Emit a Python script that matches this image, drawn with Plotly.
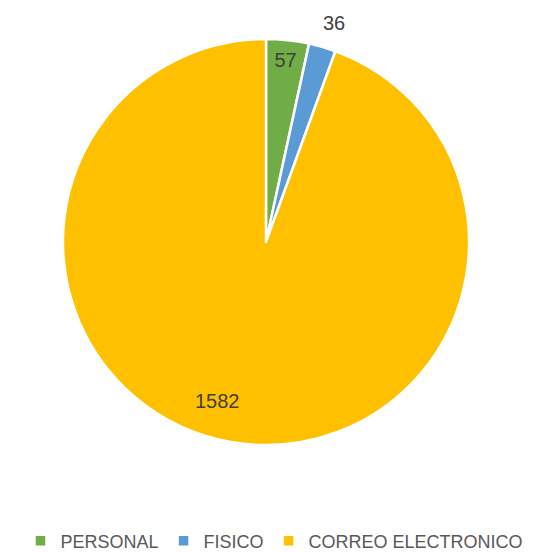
import math
import plotly.graph_objects as go

categories = ["PERSONAL", "FISICO", "CORREO ELECTRONICO"]
values = [57, 36, 1582]
colors = ["#70AD47", "#5B9BD5", "#FFC000"]
# how each value label is placed: native inside text, or annotation at radius fraction
label_modes = ["inside", "annot", "annot"]
label_radius = [None, 1.13, 0.82]
label_angle_shift = [0, 1, 7]  # degrees clockwise, small nudges

W, H = 533, 552
CX, CY, R = 258, 234, 203  # pie centre / radius in paper pixels
FONT = "Liberation Sans, Arial, sans-serif"

text_positions = ["inside" if m == "inside" else "none" for m in label_modes]

fig = go.Figure(
    go.Pie(
        labels=categories,
        values=values,
        sort=False,
        direction="clockwise",
        rotation=0,
        marker=dict(colors=colors, line=dict(color="white", width=2.5)),
        textinfo="value",
        textposition=text_positions,
        insidetextorientation="horizontal",
        textfont=dict(family=FONT, size=20, color="#404040"),
        domain=dict(x=[(CX - R) / W, (CX + R) / W], y=[1 - (CY + R) / H, 1 - (CY - R) / H]),
        hoverinfo="label+value",
    )
)

total = sum(values)
cum = 0
annotations = []
for v, mode, rf, shift in zip(values, label_modes, label_radius, label_angle_shift):
    mid = (cum + v / 2) / total * 360 + shift
    cum += v
    if mode != "annot":
        continue
    a = math.radians(mid)
    px = CX + rf * R * math.sin(a)
    py = CY - rf * R * math.cos(a)
    annotations.append(
        dict(
            x=px / W, y=1 - py / H, xref="paper", yref="paper",
            text=str(v), showarrow=False,
            font=dict(family=FONT, size=20, color="#404040"),
            xanchor="center", yanchor="middle",
        )
    )

fig.update_layout(
    width=W,
    height=H,
    margin=dict(l=0, r=0, t=0, b=0),
    paper_bgcolor="white",
    plot_bgcolor="white",
    showlegend=True,
    annotations=annotations,
    legend=dict(
        orientation="h",
        x=0.5,
        xanchor="center",
        y=1 - 533 / H,
        yanchor="middle",
        font=dict(family=FONT, size=18, color="#595959"),
        itemwidth=30,
        tracegroupgap=0,
    ),
)

fig.write_html("out.html")
